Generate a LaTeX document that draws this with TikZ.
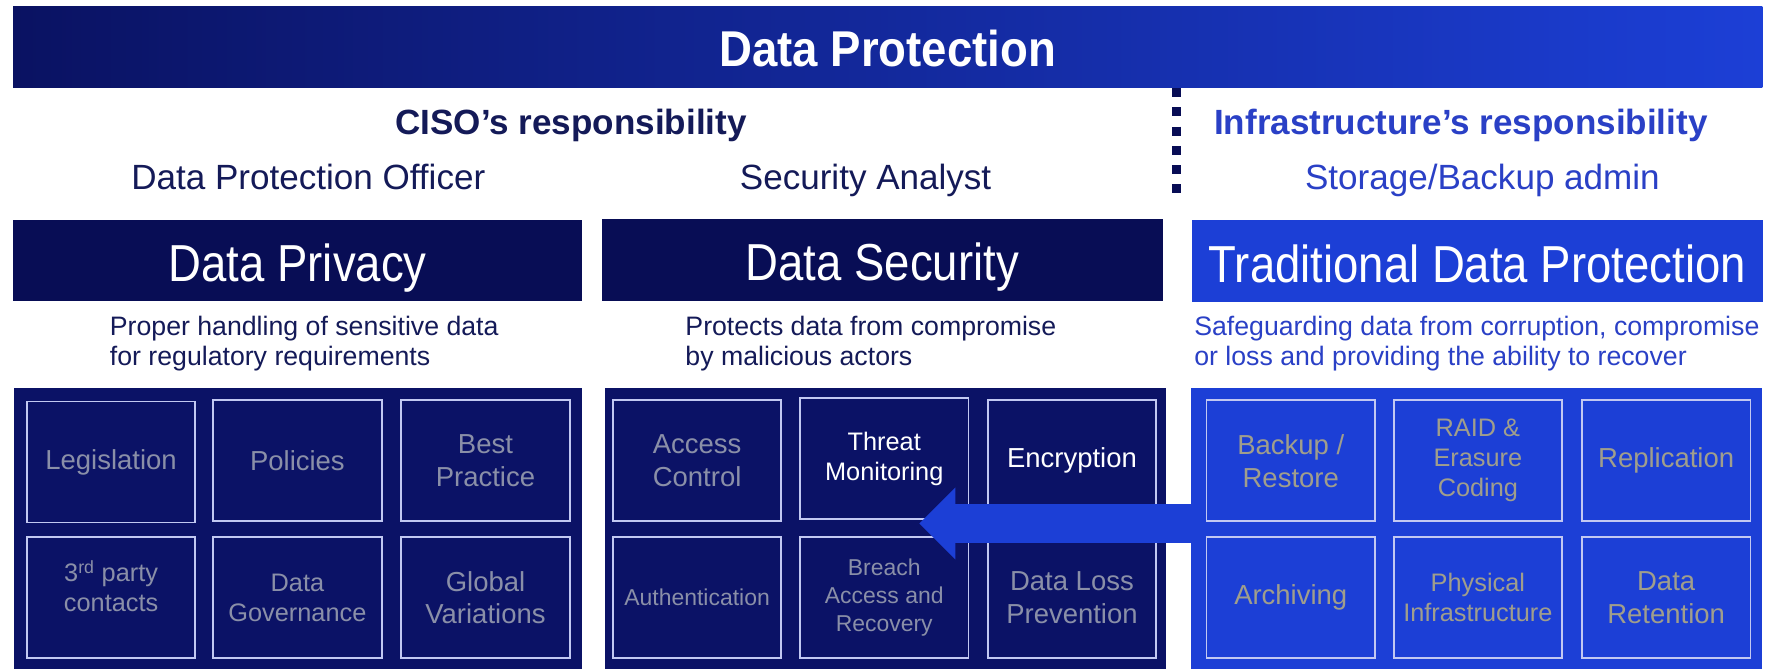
\documentclass[tikz,border=0pt]{standalone}
\usepackage{fontspec}
\setmainfont{Liberation Sans}
\newfontfamily\headfont[FakeStretch=0.875]{Liberation Sans}
\newfontfamily\titlefont[FakeStretch=0.905]{Liberation Sans}
\usetikzlibrary{arrows.meta}

\definecolor{navyhead}{HTML}{080D55}
\definecolor{navypanel}{HTML}{0B1266}
\definecolor{royal}{HTML}{1C3FD6}
\definecolor{bannerleft}{HTML}{0A1262}
\definecolor{bannermid}{HTML}{12279E}
\definecolor{outline}{HTML}{C2C8F2}
\definecolor{greyonnavy}{HTML}{8A8FA8}
\definecolor{greyonblue}{HTML}{A09E8C}
\definecolor{inknavy}{HTML}{141A58}
\definecolor{inkblue}{HTML}{2A40C6}

\tikzset{
  headbox/.style={inner sep=0pt, minimum height=72, text=white,
    text height=40, text depth=3,
    font=\headfont\fontsize{46}{52}\selectfont},
  panelbox/.style={inner sep=0pt, minimum height=249},
  cell/.style={draw=outline, line width=1.6, inner sep=0pt,
    minimum width=149, minimum height=107, align=center},
  bigtxt/.style={font=\fontsize{24.3}{29}\selectfont},
  midtxt/.style={font=\fontsize{22.4}{26.5}\selectfont},
  smalltxt/.style={font=\fontsize{20.3}{24.7}\selectfont},
  boldline/.style={inner sep=0pt, anchor=base, font=\bfseries\fontsize{31}{37}\selectfont},
  roleline/.style={inner sep=0pt, anchor=base, font=\fontsize{31}{37}\selectfont},
  desc/.style={inner sep=0pt, anchor=west, align=left,
    font=\fontsize{23.6}{26.5}\selectfont},
}

\begin{document}
\begin{tikzpicture}[x=1pt,y=-1pt]
  % canvas
  \useasboundingbox (0,0) rectangle (1568,592);
  \fill[white] (0,0) rectangle (1568,592);

  % title banner
  \node[inner sep=0pt, minimum width=1547, minimum height=71.5,
        left color=bannerleft, middle color=bannermid, right color=royal] (banner) at (785,41.25) {};
  \node[inner sep=0pt, anchor=base, text=white,
        font=\titlefont\bfseries\fontsize{44.5}{50}\selectfont] (title) at (785,59) {Data Protection};

  % responsibility split
  \coordinate (divtop) at (1040.5,78);
  \coordinate (divbot) at (1040.5,171);
  \draw[navyhead, line width=8, dash pattern=on 8 off 9] (divtop) -- (divbot);

  \node[boldline, text=inknavy] (ciso) at (505,119) {CISO’s responsibility};
  \node[boldline, text=inkblue] (infra) at (1292,119) {Infrastructure’s responsibility};
  \node[roleline, text=inknavy] (dpo) at (272.6,168) {Data Protection Officer};
  \node[roleline, text=inknavy] (analyst) at (765.5,168) {Security Analyst};
  \node[roleline, text=inkblue] (storage) at (1311,168) {Storage/Backup admin};

  % column headers
  \node[headbox, fill=navyhead, minimum width=503.5] (privhead) at (263.25,230.5) {Data Privacy};
  \node[headbox, fill=navyhead, minimum width=496.5] (sechead) at (780.25,230) {Data Security};
  \node[headbox, fill=royal, minimum width=505] (tradhead) at (1306.5,231) {Traditional Data Protection};

  % column descriptions
  \node[desc, text=inknavy] (privdesc) at (97,304) {Proper handling of sensitive data\\for regulatory requirements};
  \node[desc, text=inknavy] (secdesc) at (606,304) {Protects data from compromise\\by malicious actors};
  \node[desc, text=inkblue] (traddesc) at (1056,304) {Safeguarding data from corruption, compromise\\or loss and providing the ability to recover};

  % panels
  \node[panelbox, fill=navypanel, minimum width=502.2] (privpanel) at (263.9,467.5) {};
  \node[panelbox, fill=navypanel, minimum width=496.4] (secpanel) at (782.8,467.5) {};
  \node[panelbox, fill=royal, minimum width=504.3] (tradpanel) at (1305.85,467.5) {};

  % Data Privacy cells
  \node[cell, bigtxt, text=greyonnavy] (legislation) at (98.25,408.5) {Legislation};
  \node[cell, bigtxt, text=greyonnavy] (policies) at (263,407.5) {Policies};
  \node[cell, bigtxt, text=greyonnavy] (bestpractice) at (429.35,407.5) {Best\\Practice};
  \node[cell, midtxt, text=greyonnavy, text depth=20] (thirdparty) at (98.25,528.5) {3\textsuperscript{rd} party\\contacts};
  \node[cell, midtxt, text=greyonnavy] (governance) at (263,528.5) {Data\\Governance};
  \node[cell, bigtxt, text=greyonnavy] (global) at (429.35,528.5) {Global\\Variations};

  % Data Security cells
  \node[cell, bigtxt, text=greyonnavy] (access) at (616.5,407.5) {Access\\Control};
  \node[cell, midtxt, text=white] (threat) at (782,405.5) {Threat\\Monitoring};
  \node[cell, bigtxt, text=white] (encryption) at (948,407.5) {Encryption};
  \node[cell, smalltxt, text=greyonnavy] (authentication) at (616.5,528.5) {Authentication};
  \node[cell, smalltxt, text=greyonnavy] (breach) at (782,528.5) {Breach\\Access and\\Recovery};
  \node[cell, bigtxt, text=greyonnavy] (dlp) at (948,528.5) {Data Loss\\Prevention};

  % Traditional Data Protection cells
  \node[cell, bigtxt, text=greyonblue] (backup) at (1141.5,407.5) {Backup /\\Restore};
  \node[cell, midtxt, text=greyonblue] (raid) at (1307,407.5) {RAID \&\\Erasure\\Coding};
  \node[cell, bigtxt, text=greyonblue] (replication) at (1473.5,407.5) {Replication};
  \node[cell, bigtxt, text=greyonblue] (archiving) at (1141.5,528.5) {Archiving};
  \node[cell, midtxt, text=greyonblue] (physical) at (1307,528.5) {Physical\\Infrastructure};
  \node[cell, bigtxt, text=greyonblue] (retention) at (1473.5,528.5) {Data\\Retention};

  % block arrow from traditional protection into data security
  \coordinate (tip) at (813,463);
  \draw[royal, line width=34, shorten <=-4,
        -{Triangle[length=32pt 0 0, width=64pt 0 0, line width=0pt]}]
    (tip -| tradpanel.west) -- (tip);
\end{tikzpicture}
\end{document}
